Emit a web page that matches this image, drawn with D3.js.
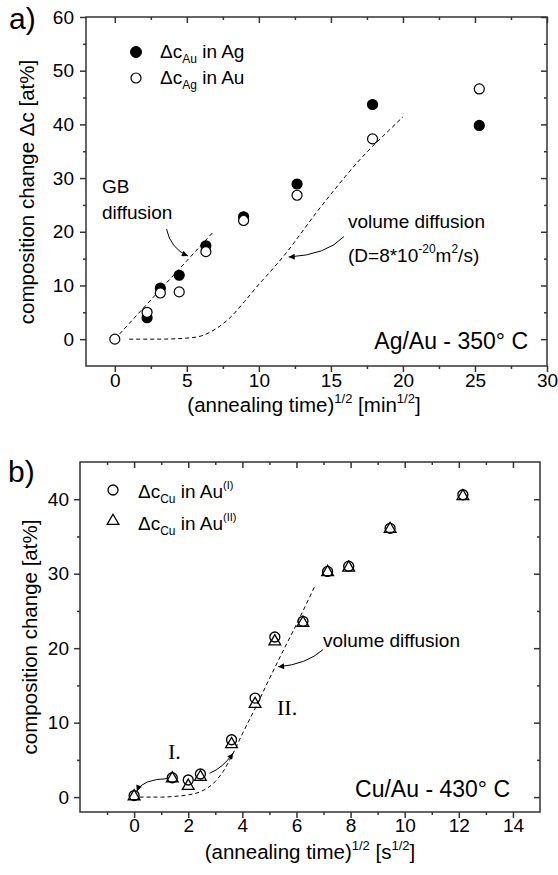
<!DOCTYPE html>
<html>
<head>
<meta charset="utf-8">
<script src="https://cdn.jsdelivr.net/npm/d3@7"></script>
<style>
  body { margin: 0; background: #fff; }
  text { font-family: "Liberation Sans", Arial, sans-serif; fill: #000; }
</style>
</head>
<body>
<div id="chart"></div>
<script>
// ---- panel a) Ag/Au ----
const aOpenTime   = [0, 2.24, 3.16, 4.47, 6.32, 8.94, 12.65, 17.89, 25.3];
const aAgInAu     = [0, 5.0, 8.6, 8.8, 16.3, 22.1, 26.8, 37.3, 46.6];
const aFilledTime = [2.24, 3.16, 4.47, 6.32, 8.94, 12.65, 17.89, 25.3];
const aAuInAg     = [4.0, 9.5, 11.9, 17.4, 22.8, 28.9, 43.7, 39.8];
const aGbTime = [0, 6.85];
const aGbFit  = [0, 20];
const aVolTime = [1, 3, 5, 6, 7, 8, 9, 10, 11, 12, 13, 14, 15, 16, 17, 18, 19, 20];
const aVolFit  = [0, 0, 0.2, 0.6, 1.9, 4.0, 7.0, 10.2, 13.2, 16.4, 20.0, 23.6, 27.0, 30.3, 33.4, 36.2, 38.8, 41.4];
const aXTicks = [0, 5, 10, 15, 20, 25, 30];
const aXMinor = [2.5, 7.5, 12.5, 17.5, 22.5, 27.5];
const aYTicks = [0, 10, 20, 30, 40, 50, 60];
const aYMinor = [5, 15, 25, 35, 45, 55];

// ---- panel b) Cu/Au ----
const bTime = [0, 1.41, 2, 2.45, 3.6, 4.47, 5.2, 6.24, 7.15, 7.93, 9.46, 12.15];
const bAuI  = [0.2, 2.6, 2.3, 3.1, 7.7, 13.3, 21.5, 23.6, 30.3, 31.0, 36.1, 40.6];
const bAuII = [0.1, 2.5, 1.5, 2.7, 7.1, 12.5, 20.9, 23.4, 30.2, 30.8, 36.0, 40.4];
const bVolTime = [0.2, 1, 1.5, 2, 2.5, 3, 3.3, 3.66, 4, 4.5, 5, 5.5, 6, 6.7];
const bVolFit  = [0, 0, 0.1, 0.3, 0.8, 2.1, 3.5, 5.9, 8.5, 12.1, 15.9, 19.6, 23.2, 28.5];
const bXTicks = [0, 2, 4, 6, 8, 10, 12, 14];
const bXMinor = [-1, 1, 3, 5, 7, 9, 11, 13];
const bYTicks = [0, 10, 20, 30, 40];
const bYMinor = [5, 15, 25, 35];

// annotation arrows [start, control, tip] in data units
const aArrows = [
  [[3.59, 20.5], [3.87, 16.9], [5.07, 15.5]],
  [[15.9, 19.1], [14.7, 15.7], [12.07, 15.3]]
];
const bArrows = [
  [[1.28, 2.5], [0.28, 2.4], [0.1, 0.8]],
  [[2.79, 3.2], [3.29, 3.95], [3.66, 5.9]],
  [[6.98, 19.8], [6.36, 17.8], [5.32, 17.5]]
];

const axisColor = "#333";

const svg = d3.select("#chart")
  .append("svg")
  .attr("width", 558)
  .attr("height", 875);

svg.append("defs").append("marker")
  .attr("id", "head")
  .attr("viewBox", "0 0 10 10")
  .attr("refX", 10).attr("refY", 5)
  .attr("markerWidth", 8).attr("markerHeight", 6)
  .attr("markerUnits", "userSpaceOnUse")
  .attr("orient", "auto")
  .append("path").attr("d", "M0,0 L10,5 L0,10 z").attr("fill", "#000");

function drawAxes(x, y, xMajor, xMinor, yMajor, yMinor, padX, padY) {
  const [x0, x1] = x.range(), [y0, y1] = y.range();
  const g = svg.append("g");
  const fmt = d3.format("d");
  g.append("g").attr("transform", `translate(0,${y0})`)
    .call(d3.axisBottom(x).tickValues(xMajor).tickSize(6).tickPadding(padX).tickFormat(fmt));
  g.append("g").attr("transform", `translate(0,${y0})`)
    .call(d3.axisBottom(x).tickValues(xMinor).tickSize(3).tickFormat(""));
  g.append("g").attr("transform", `translate(0,${y1})`)
    .call(d3.axisTop(x).tickValues(xMajor).tickSize(-6).tickFormat(""));
  g.append("g").attr("transform", `translate(0,${y1})`)
    .call(d3.axisTop(x).tickValues(xMinor).tickSize(-3).tickFormat(""));
  g.append("g").attr("transform", `translate(${x0},0)`)
    .call(d3.axisLeft(y).tickValues(yMajor).tickSize(6).tickPadding(padY).tickFormat(fmt));
  g.append("g").attr("transform", `translate(${x0},0)`)
    .call(d3.axisLeft(y).tickValues(yMinor).tickSize(3).tickFormat(""));
  g.append("g").attr("transform", `translate(${x1},0)`)
    .call(d3.axisRight(y).tickValues(yMajor).tickSize(-6).tickFormat(""));
  g.append("g").attr("transform", `translate(${x1},0)`)
    .call(d3.axisRight(y).tickValues(yMinor).tickSize(-3).tickFormat(""));
  g.selectAll(".domain").remove();
  g.selectAll(".tick line").attr("stroke", axisColor).attr("stroke-width", 1.5);
  g.selectAll(".tick text").style("font-size", "19px").attr("font-family", null);
  g.append("rect")
    .attr("x", x0).attr("y", y1)
    .attr("width", x1 - x0).attr("height", y0 - y1)
    .attr("fill", "none").attr("stroke", axisColor).attr("stroke-width", 1.5);
}

function dashed(x, y, xs, ys) {
  const line = d3.line().x(d => x(d[0])).y(d => y(d[1])).curve(d3.curveMonotoneX);
  svg.append("path")
    .attr("d", line(d3.zip(xs, ys)))
    .attr("fill", "none").attr("stroke", "#000")
    .attr("stroke-width", 1).attr("stroke-dasharray", "4,3");
}

function arrows(x, y, list) {
  list.forEach(a => {
    svg.append("path")
      .attr("d", `M${x(a[0][0])},${y(a[0][1])} Q${x(a[1][0])},${y(a[1][1])} ${x(a[2][0])},${y(a[2][1])}`)
      .attr("fill", "none").attr("stroke", "#000").attr("stroke-width", 1)
      .attr("marker-end", "url(#head)");
  });
}

// x label with superscripts
function xLabel(cx, cy, unit) {
  const t = svg.append("text").attr("x", cx).attr("y", cy)
    .attr("text-anchor", "middle").style("font-size", "20.5px");
  t.append("tspan").text("(annealing time)");
  t.append("tspan").attr("dy", -9).style("font-size", "13px").text("1/2");
  t.append("tspan").attr("dy", 9).text(" [" + unit);
  t.append("tspan").attr("dy", -9).style("font-size", "13px").text("1/2");
  t.append("tspan").attr("dy", 9).text("]");
}

function yLabel(cx, cy, label) {
  svg.append("text")
    .attr("transform", `translate(${cx},${cy}) rotate(-90)`)
    .attr("text-anchor", "middle").style("font-size", "20.5px")
    .text(label);
}

// ================= panel a =================
const xa = d3.scaleLinear().domain([-2, 30]).range([86, 547]);
const ya = d3.scaleLinear().domain([-5, 60]).range([366, 17]);

drawAxes(xa, ya, aXTicks, aXMinor, aYTicks, aYMinor, 2, 6);

dashed(xa, ya, aGbTime, aGbFit);
dashed(xa, ya, aVolTime, aVolFit);
arrows(xa, ya, aArrows);

svg.append("g").selectAll("circle")
  .data(d3.zip(aFilledTime, aAuInAg))
  .join("circle")
  .attr("cx", d => xa(d[0])).attr("cy", d => ya(d[1])).attr("r", 5)
  .attr("fill", "#000").attr("stroke", "#000").attr("stroke-width", 1.2);
svg.append("g").selectAll("circle")
  .data(d3.zip(aOpenTime, aAgInAu))
  .join("circle")
  .attr("cx", d => xa(d[0])).attr("cy", d => ya(d[1])).attr("r", 5)
  .attr("fill", "#fff").attr("stroke", "#000").attr("stroke-width", 1.2);

// legend a
svg.append("circle").attr("cx", 136).attr("cy", 52).attr("r", 5.5).attr("fill", "#000").attr("stroke", "#000");
svg.append("circle").attr("cx", 136).attr("cy", 78).attr("r", 5).attr("fill", "#fff").attr("stroke", "#000").attr("stroke-width", 1.2);
[["Au", " in Ag", 58], ["Ag", " in Au", 84]].forEach(l => {
  const t = svg.append("text").attr("x", 160).attr("y", l[2]).style("font-size", "19px");
  t.append("tspan").text("\u0394c");
  t.append("tspan").attr("dy", 5).style("font-size", "12px").text(l[0]);
  t.append("tspan").attr("dy", -5).text(l[1]);
});

svg.append("text").attr("x", 102).attr("y", 193).style("font-size", "19px").text("GB");
svg.append("text").attr("x", 102).attr("y", 219).style("font-size", "19px").text("diffusion");
svg.append("text").attr("x", 348).attr("y", 228).style("font-size", "19px").text("volume diffusion");
const dText = svg.append("text").attr("x", 348).attr("y", 262).style("font-size", "19px");
dText.append("tspan").text("(D=8*10");
dText.append("tspan").attr("dy", -9).style("font-size", "12px").text("-20");
dText.append("tspan").attr("dy", 9).text("m");
dText.append("tspan").attr("dy", -9).style("font-size", "12px").text("2");
dText.append("tspan").attr("dy", 9).text("/s)");

svg.append("text").attr("x", 528).attr("y", 349).attr("text-anchor", "end")
  .style("font-size", "23px").text("Ag/Au - 350\u00b0 C");

xLabel(304, 412, "min");
yLabel(34, 192, "composition change \u0394c [at%]");
svg.append("text").attr("x", 9).attr("y", 29).style("font-size", "30px").text("a)");

// ================= panel b =================
const xb = d3.scaleLinear().domain([-2, 15]).range([80, 540]);
const yb = d3.scaleLinear().domain([-2, 45]).range([812, 462]);

drawAxes(xb, yb, bXTicks, bXMinor, bYTicks, bYMinor, 1, 5);

dashed(xb, yb, bVolTime, bVolFit);
arrows(xb, yb, bArrows);

const tri = d3.symbol(d3.symbolTriangle).size(60);
svg.append("g").selectAll("path")
  .data(d3.zip(bTime, bAuII))
  .join("path")
  .attr("transform", d => `translate(${xb(d[0])},${yb(d[1])})`)
  .attr("d", tri).attr("fill", "none").attr("stroke", "#000").attr("stroke-width", 1.3);
svg.append("g").selectAll("circle")
  .data(d3.zip(bTime, bAuI))
  .join("circle")
  .attr("cx", d => xb(d[0])).attr("cy", d => yb(d[1])).attr("r", 5)
  .attr("fill", "none").attr("stroke", "#000").attr("stroke-width", 1.3);

// legend b
svg.append("circle").attr("cx", 113).attr("cy", 490).attr("r", 5).attr("fill", "none").attr("stroke", "#000").attr("stroke-width", 1.3);
svg.append("path").attr("transform", "translate(113,521)").attr("d", tri)
  .attr("fill", "none").attr("stroke", "#000").attr("stroke-width", 1.3);
[["(I)", 498], ["(II)", 530]].forEach(l => {
  const t = svg.append("text").attr("x", 138).attr("y", l[1]).style("font-size", "19px");
  t.append("tspan").text("\u0394c");
  t.append("tspan").attr("dy", 5).style("font-size", "12px").text("Cu");
  t.append("tspan").attr("dy", -5).text(" in Au");
  t.append("tspan").attr("dy", -9).style("font-size", "11px").text(l[0]);
});

svg.append("text").attr("x", 323).attr("y", 647).style("font-size", "19px").text("volume diffusion");
svg.append("text").attr("x", 168).attr("y", 759).style("font-size", "22px")
  .style("font-family", "'Liberation Serif', 'Times New Roman', serif").text("I.");
svg.append("text").attr("x", 277).attr("y", 715).style("font-size", "22px")
  .style("font-family", "'Liberation Serif', 'Times New Roman', serif").text("II.");

svg.append("text").attr("x", 510).attr("y", 797).attr("text-anchor", "end")
  .style("font-size", "23px").text("Cu/Au - 430\u00b0 C");

xLabel(310, 859, "s");
yLabel(37, 637, "composition change [at%]");
svg.append("text").attr("x", 8).attr("y", 482).style("font-size", "30px").text("b)");
</script>
</body>
</html>
